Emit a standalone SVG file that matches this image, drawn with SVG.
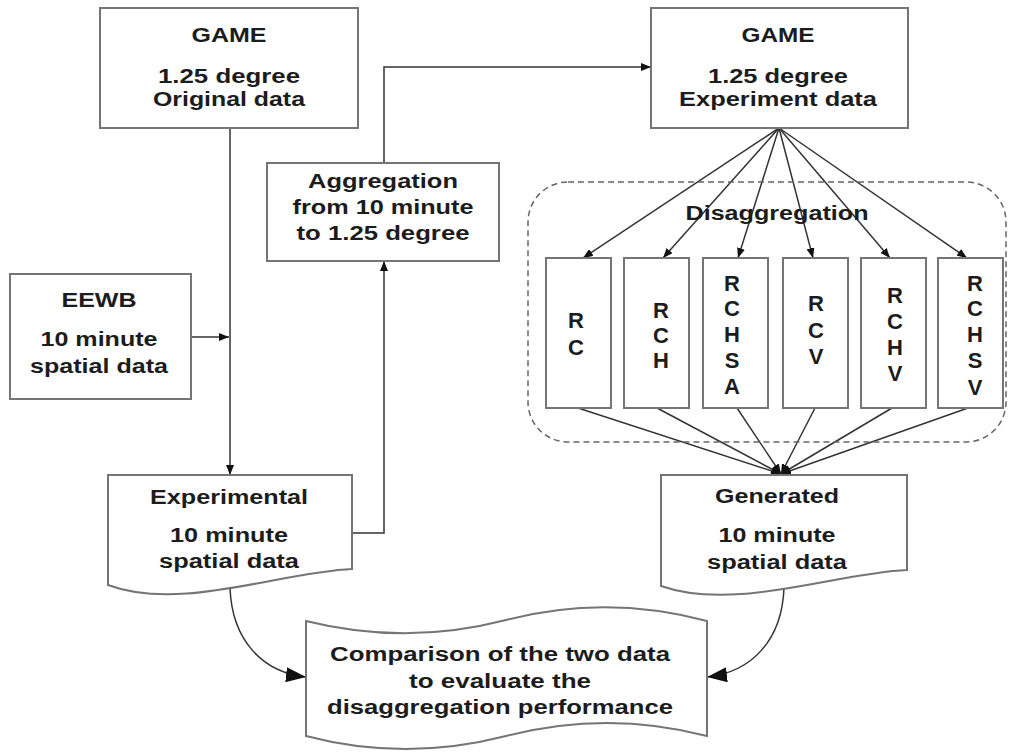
<svg xmlns="http://www.w3.org/2000/svg" width="1009" height="753" viewBox="0 0 1009 753">
<style>
.box{fill:#fff;stroke:#757575;stroke-width:2}
.ln{fill:none;stroke:#333;stroke-width:1.5}
.t{font-family:"Liberation Sans",Arial,sans-serif;font-weight:bold;font-size:19.5px;text-anchor:middle;fill:#1c1c1c}
.l{font-family:"Liberation Sans",Arial,sans-serif;font-weight:bold;font-size:22px;text-anchor:middle;fill:#1c1c1c}
.dash{fill:none;stroke:#666;stroke-width:1.5;stroke-dasharray:6 4}
</style>
<defs>
<marker id="arr" viewBox="0 0 10 10" refX="10" refY="5" markerWidth="10" markerHeight="8" markerUnits="userSpaceOnUse" orient="auto" preserveAspectRatio="none"><path d="M0,0 L10,5 L0,10 z" fill="#111"/></marker>
<marker id="arrL" viewBox="0 0 10 10" refX="10" refY="5" markerWidth="20" markerHeight="15" markerUnits="userSpaceOnUse" orient="auto" preserveAspectRatio="none"><path d="M0,0 L10,5 L0,10 z" fill="#111"/></marker>
</defs>
<rect width="1009" height="753" fill="#fff"/>

<g id="connectors">
<path class="ln" d="M230,128 L230,475" marker-end="url(#arr)"/>
<path class="ln" d="M191,337 L229,337" marker-end="url(#arr)"/>
<path class="ln" d="M352,533 L384,533 L384,261" marker-end="url(#arr)"/>
<path class="ln" d="M384,163 L384,67 L651,67" marker-end="url(#arr)"/>
<path class="ln" d="M779,128 L583,258" marker-end="url(#arr)"/>
<path class="ln" d="M779,128 L663,258" marker-end="url(#arr)"/>
<path class="ln" d="M779,128 L738,258" marker-end="url(#arr)"/>
<path class="ln" d="M779,128 L813,258" marker-end="url(#arr)"/>
<path class="ln" d="M779,128 L890,258" marker-end="url(#arr)"/>
<path class="ln" d="M779,128 L967,258" marker-end="url(#arr)"/>
<path class="ln" d="M578,408 L781,474" marker-end="url(#arr)"/>
<path class="ln" d="M657,408 L781,474" marker-end="url(#arr)"/>
<path class="ln" d="M737,408 L781,474" marker-end="url(#arr)"/>
<path class="ln" d="M815,408 L781,474" marker-end="url(#arr)"/>
<path class="ln" d="M892,408 L781,474" marker-end="url(#arr)"/>
<path class="ln" d="M968,408 L781,474" marker-end="url(#arr)"/>
<path class="ln" d="M230,588 C232,640 262,672 306,677" marker-end="url(#arrL)"/>
<path class="ln" d="M784,588 C782,640 752,672 707,677" marker-end="url(#arrL)"/>
</g>

<g id="game-original">
<rect class="box" x="100" y="8" width="258" height="120"/>
<text class="t" x="229" y="42" textLength="75" lengthAdjust="spacingAndGlyphs">GAME</text>
<text class="t" x="229" y="83" textLength="142" lengthAdjust="spacingAndGlyphs">1.25 degree</text>
<text class="t" x="229" y="106" textLength="152" lengthAdjust="spacingAndGlyphs">Original data</text>
</g>

<g id="aggregation">
<rect class="box" x="267" y="163" width="232" height="98"/>
<text class="t" x="383" y="188" textLength="150" lengthAdjust="spacingAndGlyphs">Aggregation</text>
<text class="t" x="383" y="214" textLength="181" lengthAdjust="spacingAndGlyphs">from 10 minute</text>
<text class="t" x="383" y="240" textLength="173" lengthAdjust="spacingAndGlyphs">to 1.25 degree</text>
</g>

<g id="eewb">
<rect class="box" x="10" y="274" width="181" height="125"/>
<text class="t" x="99" y="307" textLength="75" lengthAdjust="spacingAndGlyphs">EEWB</text>
<text class="t" x="99" y="346" textLength="117" lengthAdjust="spacingAndGlyphs">10 minute</text>
<text class="t" x="99" y="373" textLength="138" lengthAdjust="spacingAndGlyphs">spatial data</text>
</g>

<g id="experimental">
<path class="box" d="M108,475 L352,475 L352,569 C280,572 180,612 108,585 Z"/>
<text class="t" x="229" y="504" textLength="158" lengthAdjust="spacingAndGlyphs">Experimental</text>
<text class="t" x="229" y="542" textLength="118" lengthAdjust="spacingAndGlyphs">10 minute</text>
<text class="t" x="229" y="568" textLength="140" lengthAdjust="spacingAndGlyphs">spatial data</text>
</g>

<g id="game-experiment">
<rect class="box" x="651" y="8" width="257" height="120"/>
<text class="t" x="778" y="42" textLength="73" lengthAdjust="spacingAndGlyphs">GAME</text>
<text class="t" x="778" y="83" textLength="140" lengthAdjust="spacingAndGlyphs">1.25 degree</text>
<text class="t" x="778" y="106" textLength="198" lengthAdjust="spacingAndGlyphs">Experiment data</text>
</g>

<g id="disaggregation">
<rect class="dash" x="528" y="182" width="478" height="260" rx="40" ry="40"/>
<text class="t" x="777" y="220" textLength="183" lengthAdjust="spacingAndGlyphs">Disaggregation</text>
</g>

<g id="rc">
<rect class="box" x="546" y="258" width="65" height="150"/>
<text class="l" x="576" y="328">R</text>
<text class="l" x="576" y="355">C</text>
</g>
<g id="rch">
<rect class="box" x="624" y="258" width="65" height="150"/>
<text class="l" x="661" y="318">R</text>
<text class="l" x="661" y="343">C</text>
<text class="l" x="661" y="368">H</text>
</g>
<g id="rchsa">
<rect class="box" x="703" y="258" width="65" height="150"/>
<text class="l" x="732" y="291">R</text>
<text class="l" x="732" y="316">C</text>
<text class="l" x="732" y="342">H</text>
<text class="l" x="732" y="368">S</text>
<text class="l" x="732" y="394">A</text>
</g>
<g id="rcv">
<rect class="box" x="783" y="258" width="65" height="150"/>
<text class="l" x="816" y="311">R</text>
<text class="l" x="816" y="338">C</text>
<text class="l" x="816" y="364">V</text>
</g>
<g id="rchv">
<rect class="box" x="861" y="258" width="65" height="150"/>
<text class="l" x="895" y="303">R</text>
<text class="l" x="895" y="329">C</text>
<text class="l" x="895" y="355">H</text>
<text class="l" x="895" y="381">V</text>
</g>
<g id="rchsv">
<rect class="box" x="938" y="258" width="65" height="150"/>
<text class="l" x="975" y="291">R</text>
<text class="l" x="975" y="316">C</text>
<text class="l" x="975" y="342">H</text>
<text class="l" x="975" y="368">S</text>
<text class="l" x="975" y="395">V</text>
</g>

<g id="generated">
<path class="box" d="M661,475 L907,475 L907,570 C835,573 735,612 661,586 Z"/>
<text class="t" x="777" y="503" textLength="124" lengthAdjust="spacingAndGlyphs">Generated</text>
<text class="t" x="777" y="542" textLength="117" lengthAdjust="spacingAndGlyphs">10 minute</text>
<text class="t" x="777" y="569" textLength="140" lengthAdjust="spacingAndGlyphs">spatial data</text>
</g>

<g id="comparison">
<path class="box" d="M306,621 Q406,646 506,620 T707,621 L707,736 Q607,710 506,736 T306,736 Z"/>
<text class="t" x="500" y="661" textLength="340" lengthAdjust="spacingAndGlyphs">Comparison of the two data</text>
<text class="t" x="500" y="688" textLength="182" lengthAdjust="spacingAndGlyphs">to evaluate the</text>
<text class="t" x="500" y="714" textLength="346" lengthAdjust="spacingAndGlyphs">disaggregation performance</text>
</g>
</svg>
